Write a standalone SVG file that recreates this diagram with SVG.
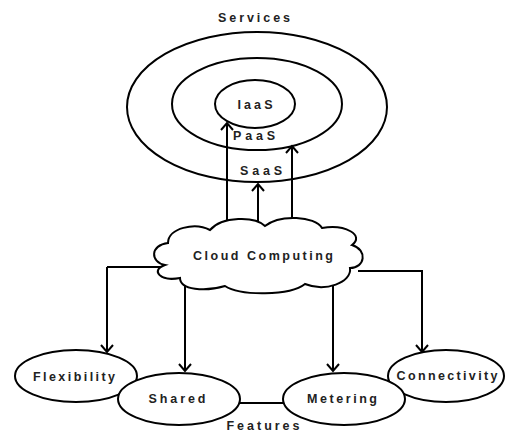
<svg xmlns="http://www.w3.org/2000/svg" width="507" height="434" viewBox="0 0 507 434">
<style>
.s{fill:none;stroke:#000;stroke-width:2}
.n{fill:#fff;stroke:#000;stroke-width:2}
.t{font-family:"Liberation Sans",Arial,sans-serif;font-weight:bold;font-size:12.5px;fill:#222;text-anchor:middle}
.c{fill:none;stroke:#000;stroke-width:2}
.h{fill:none;stroke:#000;stroke-width:2}
</style>
<g id="services">
<ellipse class="s" cx="257" cy="107" rx="130" ry="75"/>
<ellipse class="s" cx="257" cy="104" rx="85" ry="46"/>
<ellipse class="s" cx="255" cy="104" rx="40" ry="24"/>
<text class="t" x="254" y="22" textLength="72" lengthAdjust="spacing">Services</text>
<text class="t" x="255" y="109" textLength="35" lengthAdjust="spacing">IaaS</text>
<text class="t" x="254" y="140" textLength="42" lengthAdjust="spacing">PaaS</text>
<text class="t" x="261" y="175" textLength="42" lengthAdjust="spacing">SaaS</text>
</g>
<g id="connectors">
<path class="c" d="M227,230 V123"/>
<path class="c" d="M258,222 V184"/>
<path class="c" d="M292,222 V146"/>
<path class="c" d="M107,267 H163 M107,267 V352"/>
<path class="c" d="M185,280 V371"/>
<path class="c" d="M333,286 V371"/>
<path class="c" d="M358,271 H422 V352"/>
<path class="c" d="M240,403 H283"/>
<g id="arrowheads">
<path class="h" d="M221,130 L227,123 L233,130"/>
<path class="h" d="M252,191 L258,184 L264,191"/>
<path class="h" d="M286,153 L292,146 L298,153"/>
<path class="h" d="M101,345 L107,352 L113,345"/>
<path class="h" d="M179,364 L185,371 L191,364"/>
<path class="h" d="M327,364 L333,371 L339,364"/>
<path class="h" d="M416,345 L422,352 L428,345"/>
</g>
</g>
<g id="cloud">
<path class="n" d="M165,265 C150,262 150,245 168,243 C168,228 195,222 210,230 C222,216 255,216 265,226 C280,214 315,216 322,228 C345,224 365,235 352,245 C368,250 365,268 350,268 C352,283 325,292 305,284 C290,296 240,296 225,286 C205,292 180,290 180,278 C160,282 150,270 165,265 Z"/>
<text class="t" x="263" y="260" textLength="140" lengthAdjust="spacing">Cloud Computing</text>
</g>
<g id="flexibility">
<ellipse class="n" cx="76" cy="376" rx="61" ry="26"/>
<text class="t" x="74" y="381" textLength="82" lengthAdjust="spacing">Flexibility</text>
</g>
<g id="connectivity">
<ellipse class="n" cx="446" cy="376" rx="58" ry="26"/>
<text class="t" x="447" y="380" textLength="101" lengthAdjust="spacing">Connectivity</text>
</g>
<g id="shared">
<ellipse class="n" cx="179" cy="399" rx="61" ry="26"/>
<text class="t" x="177" y="403" textLength="57" lengthAdjust="spacing">Shared</text>
</g>
<g id="metering">
<ellipse class="n" cx="344" cy="399" rx="61" ry="26"/>
<text class="t" x="342" y="403" textLength="70" lengthAdjust="spacing">Metering</text>
</g>
<text class="t" x="263" y="430" textLength="73" lengthAdjust="spacing">Features</text>
</svg>
